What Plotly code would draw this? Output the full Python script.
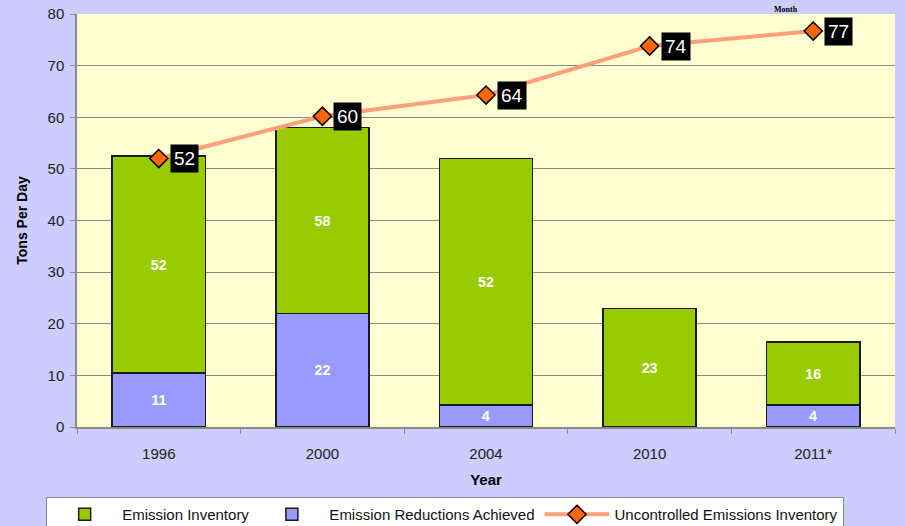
import plotly.graph_objects as go

years = ["1996", "2000", "2004", "2010", "2011*"]
inventory = [52.5, 58, 52, 23, 16.5]
inventory_text = ["52", "58", "52", "23", "16"]
reductions = [10.5, 22, 4.3, 0, 4.3]
reductions_text = ["11", "22", "4", "", "4"]
uncontrolled = [52, 60.2, 64.3, 73.8, 76.7]
uncontrolled_text = ["52", "60", "64", "74", "77"]

font = "Liberation Sans, Arial, sans-serif"

fig = go.Figure()

fig.add_trace(go.Bar(
    x=years, y=reductions, name="Emission Reductions Achieved",
    marker=dict(color="#9999FF", line=dict(color="#1a1a1a", width=1.5)),
    text=reductions_text, textposition="inside", insidetextanchor="middle", textangle=0,
    textfont=dict(color="white", size=15, family=font, weight="bold"),
    width=0.57, legendrank=2,
))

fig.add_trace(go.Bar(
    x=years, y=[t - r for t, r in zip(inventory, reductions)], name="Emission Inventory",
    marker=dict(color="#99CC00", line=dict(color="#1a1a1a", width=1.5)),
    text=inventory_text, textposition="inside", insidetextanchor="middle", textangle=0,
    textfont=dict(color="white", size=15, family=font, weight="bold"),
    width=0.57, legendrank=1,
))

fig.add_trace(go.Scatter(
    x=years, y=uncontrolled, name="Uncontrolled Emissions Inventory",
    mode="lines+markers",
    line=dict(color="#FFA07A", width=4),
    marker=dict(symbol="diamond", size=14, color="#FF6600", line=dict(color="black", width=1.5)),
    legendrank=3,
))

# category index for annotations (numeric-looking strings would be read as positions)
for i, (v, t) in enumerate(zip(uncontrolled, uncontrolled_text)):
    fig.add_annotation(
        x=i, y=v, text=t, showarrow=False, xanchor="left", xshift=11,
        bgcolor="black", borderpad=3,
        font=dict(color="white", size=19, family=font),
    )

fig.add_annotation(
    x=0.884, y=1.027, xref="paper", yref="paper", text="<b>Month</b>",
    showarrow=False, font=dict(family="Liberation Serif, Times New Roman, serif", size=8, color="black"),
)

fig.update_yaxes(
    range=[0, 80], dtick=10, automargin=False,
    title=dict(text="Tons Per Day", font=dict(size=14, family=font, weight="bold", color="black"), standoff=17),
    tickfont=dict(size=15, family=font, color="#222"),
    ticklabelstandoff=3,
    gridcolor="#8a8a8a", gridwidth=1,
    showline=True, linecolor="#8a8a8a", linewidth=1.5,
    ticks="outside", ticklen=5, tickcolor="#8a8a8a",
    zeroline=False,
)

fig.update_xaxes(
    type="category", range=[-0.5, len(years) - 0.5], automargin=False,
    title=dict(text="Year", font=dict(size=15, family=font, weight="bold", color="black"), standoff=14),
    tickfont=dict(size=15, family=font, color="#222"),
    ticklabelstandoff=12,
    showline=True, linecolor="#8a8a8a", linewidth=1.5,
    ticks="outside", ticklen=5, tickcolor="#8a8a8a", tickson="boundaries",
)

fig.update_layout(
    width=905, height=526,
    barmode="stack",
    paper_bgcolor="#CCCCFF",
    plot_bgcolor="#FFFFD1",
    margin=dict(l=77, r=10, t=14, b=99, autoexpand=False),
    font=dict(family=font, color="black"),
    uniformtext=dict(minsize=14, mode="show"),
    hovermode=False,
    legend=dict(
        orientation="h", xref="container", yref="container",
        x=0.051, y=0.055, xanchor="left", yanchor="top",
        bgcolor="white", bordercolor="#888", borderwidth=1,
        font=dict(size=15, family=font, color="#111"),
        traceorder="normal", itemwidth=65,
    ),
)

fig.write_html(
    "out.html",
    config={"displayModeBar": False},
    post_script="document.body.style.margin='0';document.body.style.background='#CCCCFF';",
)
